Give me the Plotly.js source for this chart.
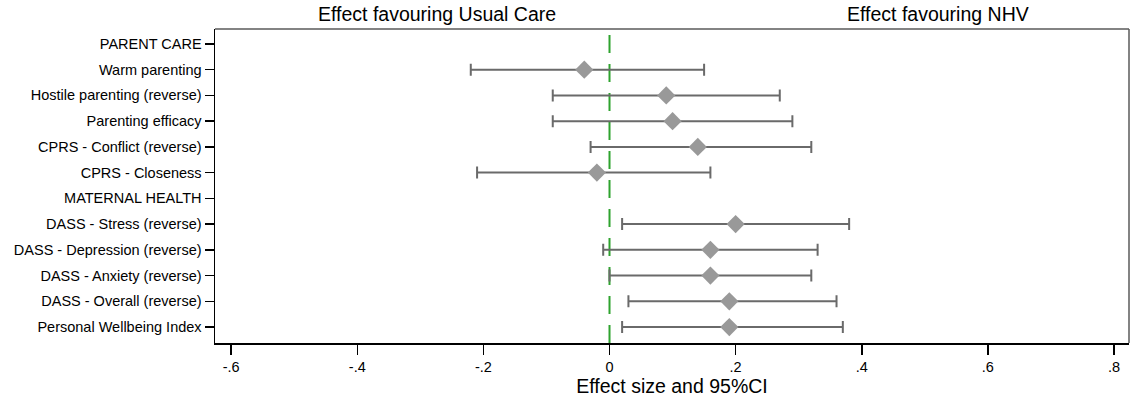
<!DOCTYPE html>
<html>
<head>
<meta charset="utf-8">
<script src="https://cdn.plot.ly/plotly-3.0.1.min.js"></script>
<style>html,body{margin:0;padding:0;background:#fff;}#chart{width:1130px;height:398px;}</style>
</head>
<body>
<div id="chart"></div>
<script>
const categories = ["PARENT CARE","Warm parenting","Hostile parenting (reverse)","Parenting efficacy","CPRS - Conflict (reverse)","CPRS - Closeness","MATERNAL HEALTH","DASS - Stress (reverse)","DASS - Depression (reverse)","DASS - Anxiety (reverse)","DASS - Overall (reverse)","Personal Wellbeing Index"];
const effect = [null,-0.04,0.09,0.10,0.14,-0.02,null,0.20,0.16,0.16,0.19,0.19];
const ciLow  = [null,-0.22,-0.09,-0.09,-0.03,-0.21,null,0.02,-0.01,0.00,0.03,0.02];
const ciHigh = [null,0.15,0.27,0.29,0.32,0.16,null,0.38,0.33,0.32,0.36,0.37];
const xTickVals = [-0.6,-0.4,-0.2,0,0.2,0.4,0.6,0.8];
const xTickText = ["-.6","-.4","-.2","0",".2",".4",".6",".8"];
const leftLabel = "Effect favouring Usual Care";
const rightLabel = "Effect favouring NHV";
const xTitle = "Effect size and 95%CI";

const plus = effect.map((v,i)=> v===null ? null : ciHigh[i]-v);
const minus = effect.map((v,i)=> v===null ? null : v-ciLow[i]);

const font = "Liberation Sans, Arial, sans-serif";

const trace = {
  type: "scatter",
  mode: "markers",
  x: effect,
  y: categories,
  marker: {symbol: "diamond", size: 14, color: "#999999", line: {width: 0}},
  error_x: {type: "data", symmetric: false, array: plus, arrayminus: minus, color: "#6a6a6a", thickness: 2, width: 6},
  hoverinfo: "x+y",
  showlegend: false,
  cliponaxis: false
};

const layout = {
  width: 1130, height: 398,
  margin: {l: 215, r: 1, t: 29, b: 55},
  paper_bgcolor: "#fff", plot_bgcolor: "#fff",
  font: {family: font, size: 14.5, color: "#000"},
  xaxis: {
    range: [-0.6256, 0.8238],
    tickvals: xTickVals, ticktext: xTickText,
    ticks: "outside", ticklen: 10, tickwidth: 1.5, tickcolor: "#000",
    showgrid: false, zeroline: false,
    showline: true, linecolor: "#000", linewidth: 1.5,
    tickfont: {size: 14.5, family: font},
    title: {text: xTitle, font: {size: 19.5, family: font}, standoff: 4},
    automargin: false
  },
  yaxis: {
    type: "category",
    categoryarray: categories, categoryorder: "array",
    range: [11.62, -0.58],
    ticks: "outside", ticklen: 9, tickwidth: 1.5, tickcolor: "#000",
    showgrid: false, zeroline: false,
    showline: true, linecolor: "#000", linewidth: 1.5,
    tickfont: {size: 14.5, family: font},
    automargin: false
  },
  shapes: [
    {type: "line", xref: "x", yref: "paper", x0: 0, x1: 0, y0: 0, y1: 1,
     line: {color: "#2ea32e", width: 2, dash: "18px,11px"}, layer: "below"},
    {type: "line", xref: "paper", yref: "paper", x0: 0, x1: 1, y0: 1, y1: 1,
     line: {color: "#5a5a5a", width: 1.5}},
    {type: "line", xref: "paper", yref: "paper", x0: 1, x1: 1, y0: 0, y1: 1,
     line: {color: "#5a5a5a", width: 1.5}}
  ],
  annotations: [
    {text: leftLabel, xref: "paper", yref: "paper", x: 0.2429, y: 1.047, xanchor: "center", yanchor: "middle", showarrow: false, font: {size: 19.5, family: font, color: "#000"}},
    {text: rightLabel, xref: "paper", yref: "paper", x: 0.791, y: 1.047, xanchor: "center", yanchor: "middle", showarrow: false, font: {size: 19.5, family: font, color: "#000"}}
  ]
};

Plotly.newPlot("chart", [trace], layout, {displayModeBar: false, staticPlot: true});
</script>
</body>
</html>
